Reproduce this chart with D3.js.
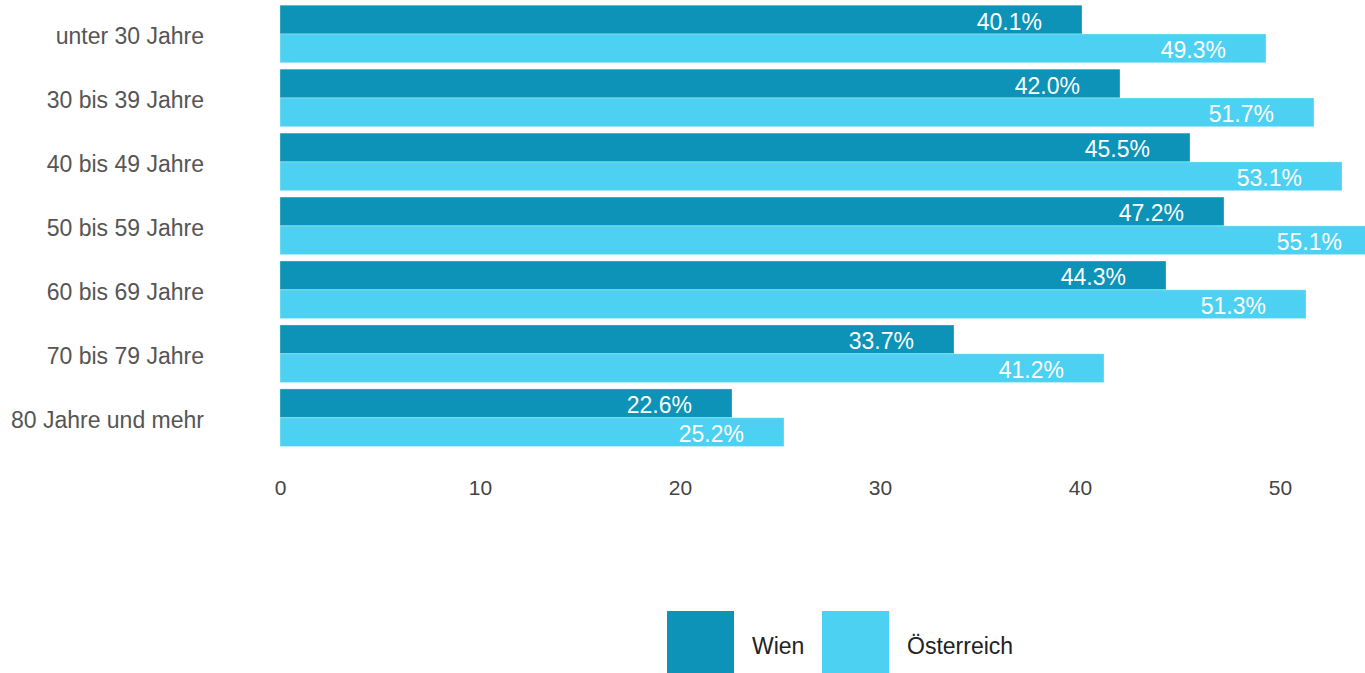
<!DOCTYPE html>
<html>
<head>
<meta charset="utf-8">
<script src="https://cdn.jsdelivr.net/npm/d3@7"></script>
<style>
  body { margin: 0; background: #fff; overflow: hidden; }
  svg { display: block; font-family: "Liberation Sans", Arial, sans-serif; }
</style>
</head>
<body>
<div id="chart"></div>
<script>
// Data.
const categories = ['unter 30 Jahre', '30 bis 39 Jahre', '40 bis 49 Jahre', '50 bis 59 Jahre',
                    '60 bis 69 Jahre', '70 bis 79 Jahre', '80 Jahre und mehr'];
const seriesNames = ['Wien', 'Österreich'];
const wienValues = [40.1, 42.0, 45.5, 47.2, 44.3, 33.7, 22.6];
const oesterreichValues = [49.3, 51.7, 53.1, 55.1, 51.3, 41.2, 25.2];
const xTicks = [0, 10, 20, 30, 40, 50];
const colors = ['#0c93b7', '#4dd1f2'];

const rows = categories.map((c, i) => ({
  category: c,
  values: [
    { series: seriesNames[0], value: wienValues[i] },
    { series: seriesNames[1], value: oesterreichValues[i] },
  ],
}));

// Base.
const width = 1365, height = 673;
const svg = d3.select('#chart')
              .append('svg')
              .attr('width', width)
              .attr('height', height);

// Scales.
const xScale = d3.scaleLinear().domain([0, 50]).range([280, 1280]);
const yScale = d3.scaleBand()
                 .domain(categories)
                 .range([2, 449.7])
                 .paddingInner(0.1)
                 .paddingOuter(0.05);
const subScale = d3.scaleBand()
                   .domain(seriesNames)
                   .range([0, yScale.bandwidth()]);
const color = d3.scaleOrdinal().domain(seriesNames).range(colors);

// Bars.
const groups = svg.append('g')
                  .attr('class', 'bars')
                  .selectAll('g')
                  .data(rows)
                  .join('g')
                  .attr('transform', d => `translate(0,${yScale(d.category)})`);

groups.selectAll('rect')
  .data(d => d.values)
  .join('rect')
  .attr('x', xScale(0))
  .attr('y', d => subScale(d.series))
  .attr('width', d => xScale(d.value) - xScale(0))
  .attr('height', subScale.bandwidth())
  .style('fill', d => color(d.series))
  .style('stroke', '#fff')
  .style('stroke-opacity', 0.3)
  .style('stroke-width', 1);

// Value labels.
groups.selectAll('text')
  .data(d => d.values)
  .join('text')
  .attr('x', d => xScale(d.value) - 40)
  .attr('y', d => subScale(d.series) + subScale.bandwidth() / 2 + 10)
  .attr('text-anchor', 'end')
  .style('font-size', '23px')
  .style('fill', '#fff')
  .text(d => `${d.value.toFixed(1)}%`);

// Category labels.
svg.append('g')
  .attr('class', 'y labels')
  .selectAll('text')
  .data(categories)
  .join('text')
  .attr('x', 204)
  .attr('y', d => yScale(d) + yScale.bandwidth() / 2 + 10)
  .attr('text-anchor', 'end')
  .style('font-size', '23px')
  .style('fill', '#555')
  .text(d => d);

// X axis.
const xAxis = d3.axisBottom(xScale)
                .tickValues(xTicks)
                .tickFormat(d3.format('d'))
                .tickSize(0)
                .tickPadding(30);
const xAxisDraw = svg.append('g')
                     .attr('class', 'x axis')
                     .attr('transform', 'translate(0,450)')
                     .call(xAxis);
xAxisDraw.select('.domain').remove();
xAxisDraw.selectAll('text')
  .style('font-size', '21px')
  .style('font-family', '"Liberation Sans", Arial, sans-serif')
  .style('fill', '#444');

// Legend.
const legend = svg.append('g')
                  .attr('class', 'legend')
                  .selectAll('g')
                  .data(seriesNames)
                  .join('g')
                  .attr('transform', (d, i) => `translate(${667 + i * 155},611)`);

legend.append('rect')
  .attr('width', 67)
  .attr('height', 62)
  .style('fill', d => color(d));

legend.append('text')
  .attr('x', 85)
  .attr('y', 43)
  .style('font-size', '23px')
  .style('fill', '#222')
  .text(d => d);
</script>
</body>
</html>
